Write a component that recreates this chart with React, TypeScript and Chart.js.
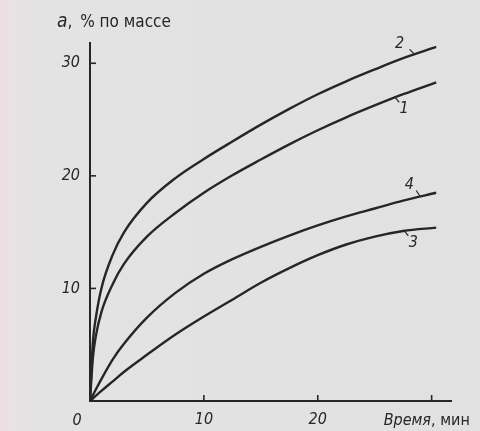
import { useEffect, useRef } from 'react';
import { Chart, registerables } from 'chart.js';

Chart.register(...registerables);

// Time, min
const times = [0, 0.25, 0.5, 1, 2, 3, 5, 7.5, 10, 12.5, 15, 17.5, 20, 22.5, 25, 27.5, 30.4];
// a, % by mass
const curve1 = [0, 3.8, 5.7, 7.9, 10.4, 12.2, 14.6, 16.7, 18.5, 20.05, 21.45, 22.8, 24.05, 25.2, 26.25, 27.25, 28.3];
const curve2 = [0, 5.2, 7.3, 10.0, 13.0, 15.0, 17.6, 19.8, 21.5, 23.05, 24.55, 25.95, 27.25, 28.4, 29.45, 30.45, 31.45];
const curve3 = [0, 0.22, 0.45, 0.9, 1.75, 2.6, 4.1, 5.9, 7.5, 9.0, 10.5, 11.8, 12.95, 13.9, 14.6, 15.1, 15.4];
const curve4 = [0, 0.5, 1.0, 1.95, 3.7, 5.1, 7.4, 9.6, 11.3, 12.6, 13.7, 14.7, 15.6, 16.4, 17.1, 17.8, 18.5];
const curveNames = ['1', '2', '3', '4'];

const xTickValues = [10, 20, 30];
const xTickLabels = ['10', '20', ''];
const yTickValues = [10, 20, 30];
const yTickLabels = ['10', '20', '30'];
const originLabel = '0';
const yTitleVar = 'a';
const yTitleRest = '% по массе';
const xTitleVar = 'Время';
const xTitleRest = ', мин';

const INK = '#262626';
const FONT = '"DejaVu Sans Condensed", "Liberation Sans Narrow", "DejaVu Sans", sans-serif';

// where each curve number sits: time on the curve, leader and text offsets (px)
const labelPlacement = [
  { t: 26.8, lx: 4, ly: 5, tx: 9, ty: 11 },
  { t: 28.5, lx: -5, ly: -5, tx: -15, ty: -10 },
  { t: 27.6, lx: 4, ly: 5, tx: 9, ty: 12 },
  { t: 29.0, lx: -4, ly: -6, tx: -11, ty: -12 },
];

function valueAt(series: number[], t: number) {
  for (let i = 1; i < times.length; i++) {
    if (t <= times[i]) {
      const f = (t - times[i - 1]) / (times[i] - times[i - 1]);
      return series[i - 1] + f * (series[i] - series[i - 1]);
    }
  }
  return series[series.length - 1];
}

const allSeries = [curve1, curve2, curve3, curve4];

const decor = {
  id: 'decor',
  afterDraw(chart: any) {
    const { ctx, scales } = chart;
    const x = scales.x;
    const y = scales.y;
    const ca = chart.chartArea;
    ctx.save();
    ctx.strokeStyle = INK;
    ctx.fillStyle = INK;
    ctx.lineWidth = 1.6;
    // inward tick marks
    xTickValues.forEach((v) => {
      const px = x.getPixelForValue(v);
      ctx.beginPath();
      ctx.moveTo(px, ca.bottom);
      ctx.lineTo(px, ca.bottom - 6);
      ctx.stroke();
    });
    yTickValues.forEach((v) => {
      const py = y.getPixelForValue(v);
      ctx.beginPath();
      ctx.moveTo(ca.left, py);
      ctx.lineTo(ca.left + 6, py);
      ctx.stroke();
    });
    // origin label
    ctx.font = `italic 16px ${FONT}`;
    ctx.textAlign = 'center';
    ctx.textBaseline = 'alphabetic';
    ctx.fillText(originLabel, x.getPixelForValue(0) - 13, ca.bottom + 24);

    // y title
    ctx.textAlign = 'left';
    let cx = ca.left - 33;
    const ty = ca.top - 16;
    ctx.font = `italic 19px ${FONT}`;
    ctx.fillText(yTitleVar, cx, ty);
    cx += ctx.measureText(yTitleVar).width;
    ctx.font = `17px ${FONT}`;
    ctx.fillText(', ', cx, ty);
    cx += ctx.measureText(', ').width + 3;
    ctx.fillText(yTitleRest, cx, ty);

    // x title
    let xx = x.getPixelForValue(30) - 48;
    const xy = ca.bottom + 24;
    ctx.font = `italic 16px ${FONT}`;
    ctx.fillText(xTitleVar, xx, xy);
    xx += ctx.measureText(xTitleVar).width;
    ctx.font = `16px ${FONT}`;
    ctx.fillText(xTitleRest, xx, xy);

    // curve numbers with leaders
    ctx.lineWidth = 1.2;
    ctx.font = `italic 16px ${FONT}`;
    ctx.textAlign = 'center';
    ctx.textBaseline = 'middle';
    labelPlacement.forEach((p, i) => {
      const px = x.getPixelForValue(p.t);
      const py = y.getPixelForValue(valueAt(allSeries[i], p.t));
      ctx.beginPath();
      ctx.moveTo(px, py);
      ctx.lineTo(px + p.lx, py + p.ly);
      ctx.stroke();
      ctx.fillText(curveNames[i], px + p.tx, py + p.ty);
    });
    ctx.restore();
  },
};

export default function App() {
  const ref = useRef<HTMLCanvasElement | null>(null);
  useEffect(() => {
    document.body.style.margin = '0';
    if (!ref.current) return;
    const mk = (s: number[]) => ({
      data: times.map((t, i) => ({ x: t, y: s[i] })),
      borderColor: INK,
      borderWidth: 2.4,
      pointRadius: 0,
      fill: false,
      cubicInterpolationMode: 'monotone' as const,
    });
    const chart = new Chart(ref.current, {
      type: 'line',
      data: {
        datasets: allSeries.map((s, i) => ({ label: curveNames[i], ...mk(s) })),
      },
      options: {
        animation: false,
        responsive: false,
        layout: { padding: { top: 43, right: 29, left: 0, bottom: 0 } },
        plugins: { legend: { display: false }, tooltip: { enabled: false } },
        scales: {
          x: {
            type: 'linear',
            min: 0,
            max: 31.7,
            grid: { display: false, drawTicks: false },
            border: { display: true, color: INK, width: 2 },
            afterFit: (s: any) => { s.height = 30; },
            ticks: {
              stepSize: 10,
              includeBounds: false,
              autoSkip: false,
              maxRotation: 0,
              padding: 9,
              color: INK,
              font: { family: FONT, size: 16, style: 'italic' },
              callback: (v: any) => {
                const k = xTickValues.indexOf(Number(v));
                return k >= 0 ? xTickLabels[k] : '';
              },
            },
          },
          y: {
            type: 'linear',
            min: 0,
            max: 31.8,
            grid: { display: false, drawTicks: false },
            border: { display: true, color: INK, width: 2 },
            afterFit: (s: any) => { s.width = 90; },
            ticks: {
              stepSize: 10,
              includeBounds: false,
              padding: 10,
              color: INK,
              font: { family: FONT, size: 16, style: 'italic' },
              callback: (v: any) => {
                const k = yTickValues.indexOf(Number(v));
                return k >= 0 ? yTickLabels[k] : '';
              },
            },
          },
        },
      },
      plugins: [decor],
    });
    return () => chart.destroy();
  }, []);
  return (
    <div
      style={{
        width: 480,
        height: 431,
        background: 'linear-gradient(90deg, #ecdfe3 0px, #e8e2e4 12px, #e3e3e3 40px, #e1e1e1 100%)',
      }}
    >
      <canvas ref={ref} width={480} height={431} style={{ display: 'block' }} />
    </div>
  );
}
